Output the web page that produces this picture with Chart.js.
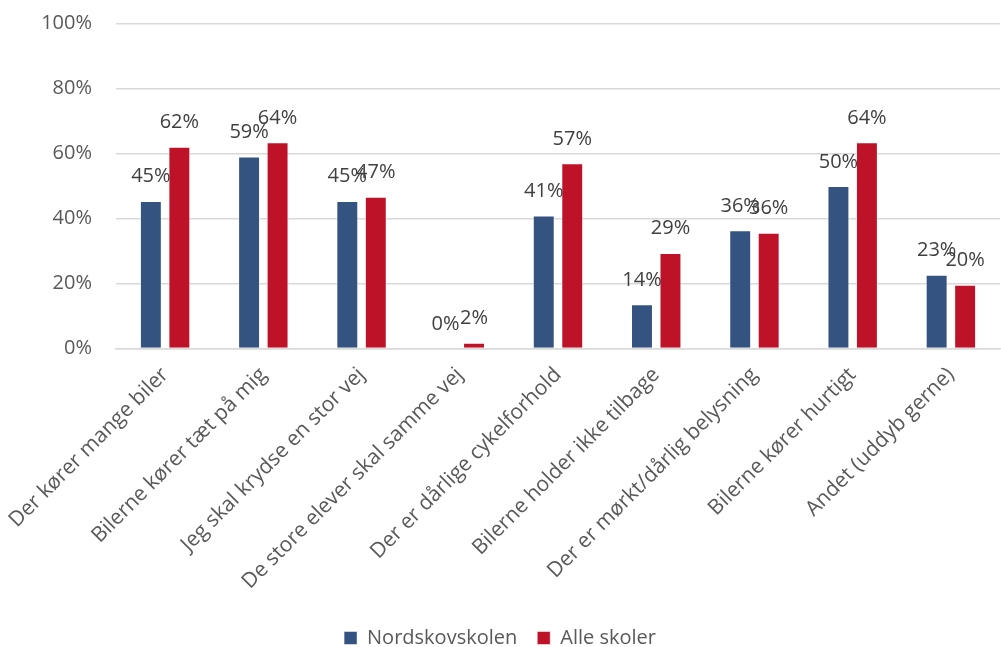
<!DOCTYPE html>
<html lang="da">
<head>
  <meta charset="UTF-8">
  <title>Nordskovskolen - utryghed</title>
  <script src="https://cdn.jsdelivr.net/npm/chart.js"></script>
  <style>
    html, body { margin: 0; padding: 0; background: #fff; }
    #wrap { width: 1001px; height: 647px; }
  </style>
</head>
<body>
  <div id="wrap"><canvas id="chart" width="1001" height="647"></canvas></div>

  <script>
    const categories = [
      'Der kører mange biler',
      'Bilerne kører tæt på mig',
      'Jeg skal krydse en stor vej',
      'De store elever skal samme vej',
      'Der er dårlige cykelforhold',
      'Bilerne holder ikke tilbage',
      'Der er mørkt/dårlig belysning',
      'Bilerne kører hurtigt',
      'Andet (uddyb gerne)'
    ];
    const nordskov = [45.4, 59.1, 45.4, 0, 40.9, 13.6, 36.4, 50.0, 22.7];
    const alleSkoler = [62.1, 63.5, 46.7, 1.8, 57.0, 29.4, 35.6, 63.5, 19.6];
    const yTicks = [0, 20, 40, 60, 80, 100];

    const FONT = '"Open Sans", "Liberation Sans", sans-serif';
    const PLOT_BOTTOM = 348.5;
    const PAD_BOTTOM = -11; // pushes the legend down to the canvas edge

    // value labels over each bar
    const barLabels = {
      id: 'barLabels',
      afterDatasetsDraw(chart) {
        const ctx = chart.ctx;
        ctx.save();
        ctx.font = '20px ' + FONT;
        ctx.fillStyle = '#404040';
        ctx.textAlign = 'center';
        ctx.textBaseline = 'alphabetic';
        chart.data.datasets.forEach((ds, i) => {
          chart.getDatasetMeta(i).data.forEach((bar, j) => {
            ctx.fillText(Math.round(ds.data[j]) + '%', bar.x, bar.y - 18.5);
          });
        });
        ctx.restore();
      }
    };

    new Chart(document.getElementById('chart'), {
      type: 'bar',
      data: {
        labels: categories,
        datasets: [
          {
            label: 'Nordskovskolen',
            data: nordskov,
            backgroundColor: '#355381',
            borderColor: 'rgba(255,255,255,0.5)',
            borderWidth: 1
          },
          {
            label: 'Alle skoler',
            data: alleSkoler,
            backgroundColor: '#be1229',
            borderColor: 'rgba(255,255,255,0.5)',
            borderWidth: 1
          }
        ]
      },
      options: {
        responsive: false,
        animation: false,
        categoryPercentage: 0.58,
        barPercentage: 0.77,
        layout: { padding: { top: 0, right: 1, left: 0, bottom: PAD_BOTTOM } },
        plugins: {
          legend: {
            position: 'bottom',
            labels: {
              boxWidth: 13,
              boxHeight: 13,
              color: '#595959',
              font: { size: 20, family: FONT },
              padding: 20
            }
          },
          tooltip: { enabled: false }
        },
        scales: {
          x: {
            afterFit(axis) {
              axis.height = 647 - PAD_BOTTOM - PLOT_BOTTOM - axis.chart.legend.height;
              axis.paddingLeft = 0;
              axis.paddingRight = 0;
            },
            grid: { display: false, drawTicks: false },
            border: { color: '#d9d9d9', width: 1.5 },
            ticks: {
              color: '#595959',
              font: { size: 21, family: FONT },
              minRotation: 45,
              maxRotation: 45,
              padding: 14
            }
          },
          y: {
            min: 0,
            max: 100,
            afterFit(axis) {
              axis.width = 116;
              axis.paddingTop = 23.5;
              axis.paddingBottom = 0;
            },
            afterBuildTicks(axis) { axis.ticks = yTicks.map(v => ({ value: v })); },
            grid: { color: '#d9d9d9', lineWidth: 1.5, drawTicks: false },
            border: { display: false },
            ticks: {
              color: '#595959',
              font: { size: 20, family: FONT },
              padding: 24,
              callback: v => v + '%'
            }
          }
        }
      },
      plugins: [barLabels]
    });
  </script>
</body>
</html>
